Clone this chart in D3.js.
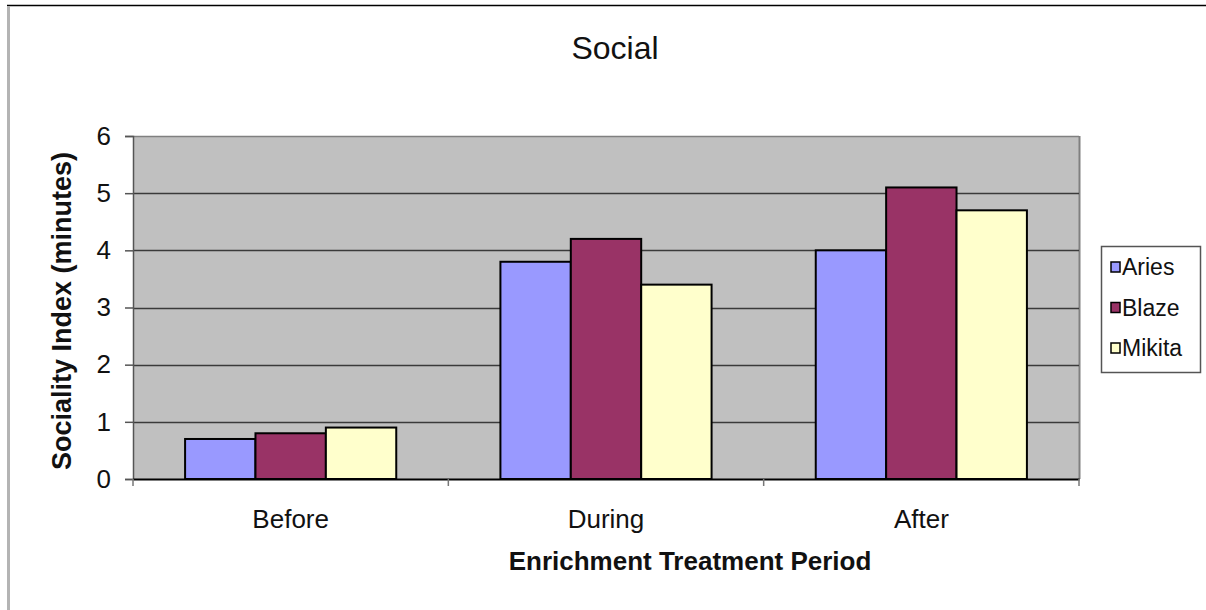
<!DOCTYPE html>
<html><head><meta charset="utf-8">
<script src="https://cdn.jsdelivr.net/npm/d3@7"></script>
<style>body{margin:0;background:#fff}svg{display:block;font-family:"Liberation Sans",Arial,sans-serif}</style>
</head><body><svg id="c" width="1206" height="610"></svg>
<script>
const categories = ["Before", "During", "After"];
const seriesNames = ["Aries", "Blaze", "Mikita"];
const aries = [0.7, 3.8, 4.0];
const blaze = [0.8, 4.2, 5.1];
const mikita = [0.9, 3.4, 4.7];
const yTicks = [0, 1, 2, 3, 4, 5, 6];
const colors = ["#9999FF", "#993366", "#FFFFCC"];
const seriesValues = [aries, blaze, mikita];

const svg = d3.select("#c");
const L = 133, R = 1079, T = 136, B = 479;

// frame
svg.append("line").attr("x1", 7).attr("x2", 1206).attr("y1", 5.5).attr("y2", 5.5).attr("stroke", "#000").attr("stroke-width", 1.5);
svg.append("rect").attr("x", 7).attr("y", 6).attr("width", 3).attr("height", 604).attr("fill", "#b4b4b4");

const x0 = d3.scaleBand().domain(categories).range([L, R]).padding(0);
const x1 = d3.scaleBand().domain(seriesNames).range([0, x0.bandwidth()]).paddingInner(0).paddingOuter(0.74);
const y = d3.scaleLinear().domain([0, 6]).range([B, T]);

// plot area
svg.append("rect").attr("x", L).attr("y", T).attr("width", R - L).attr("height", B - T).attr("fill", "#C0C0C0");
svg.append("line").attr("x1", R + 0.5).attr("x2", R + 0.5).attr("y1", T).attr("y2", B).attr("stroke", "#808080").attr("stroke-width", 2);

// gridlines
svg.append("g").selectAll("line").data(yTicks.filter(d => d > 0)).join("line")
  .attr("x1", L).attr("x2", R).attr("y1", d => Math.round(y(d)) + 0.5).attr("y2", d => Math.round(y(d)) + 0.5)
  .attr("stroke", d => d === 6 ? "#808080" : "#3a3a3a").attr("stroke-width", 1.5);

// bars
const groups = svg.append("g").selectAll("g").data(categories).join("g")
  .attr("transform", c => `translate(${x0(c)},0)`);
groups.selectAll("rect").data((c, i) => seriesNames.map((s, j) => ({ s, v: seriesValues[j][i], j })))
  .join("rect")
  .attr("x", d => x1(d.s)).attr("width", x1.bandwidth())
  .attr("y", d => y(d.v)).attr("height", d => B - y(d.v))
  .attr("fill", d => colors[d.j]).attr("stroke", "#000").attr("stroke-width", 2);

// y axis
const yAxis = svg.append("g").attr("transform", `translate(${L},0)`)
  .call(d3.axisLeft(y).tickValues(yTicks).tickSize(8).tickPadding(14).tickFormat(d3.format("d")));
yAxis.select(".domain").attr("stroke", "#555").attr("stroke-width", 1.5);
yAxis.selectAll(".tick line").attr("stroke", "#555").attr("stroke-width", 1.5);
yAxis.selectAll("text").attr("font-size", 26).attr("fill", "#111").attr("font-family", "Liberation Sans, Arial, sans-serif");

// x axis
const xAxis = svg.append("g").attr("transform", `translate(0,${B})`)
  .call(d3.axisBottom(x0).tickSize(0).tickPadding(31));
xAxis.select(".domain").attr("stroke", "#000").attr("stroke-width", 2);
xAxis.selectAll("text").attr("font-size", 26).attr("fill", "#111").attr("font-family", "Liberation Sans, Arial, sans-serif");
const bounds = [x0.range()[0], ...categories.map(c => x0(c) + x0.bandwidth())];
svg.append("g").selectAll("line").data(bounds).join("line")
  .attr("x1", d => d).attr("x2", d => d).attr("y1", B).attr("y2", B + 7)
  .attr("stroke", "#777").attr("stroke-width", 1.5);

// titles
svg.append("text").attr("x", 615).attr("y", 59).attr("text-anchor", "middle")
  .attr("font-size", 32).attr("fill", "#111").text("Social");
svg.append("text").attr("x", 690).attr("y", 570).attr("text-anchor", "middle")
  .attr("font-size", 26).attr("font-weight", "bold").attr("fill", "#111").text("Enrichment Treatment Period");
svg.append("text").attr("transform", "translate(71,311) rotate(-90)").attr("text-anchor", "middle")
  .attr("font-size", 27).attr("font-weight", "bold").attr("fill", "#111").text("Sociality Index (minutes)");

// legend
const lg = svg.append("g");
lg.append("rect").attr("x", 1101.5).attr("y", 246.5).attr("width", 99).attr("height", 126)
  .attr("fill", "#fff").attr("stroke", "#555").attr("stroke-width", 1.5);
const ly = d3.scalePoint().domain(seriesNames).range([267, 348]);
const items = lg.selectAll("g").data(seriesNames).join("g").attr("transform", s => `translate(1111,${ly(s)})`);
items.append("rect").attr("x", 0).attr("y", -5).attr("width", 9).attr("height", 10)
  .attr("fill", (s, i) => colors[i]).attr("stroke", "#000").attr("stroke-width", 1.5);
items.append("text").attr("x", 11).attr("y", 8).attr("font-size", 23).attr("fill", "#111").text(s => s);
</script></body></html>
